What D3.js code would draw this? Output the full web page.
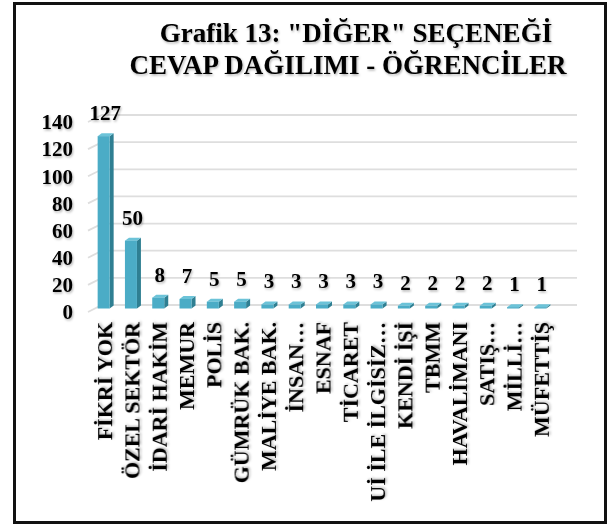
<!DOCTYPE html>
<html>
<head>
<meta charset="utf-8">
<script src="https://cdn.jsdelivr.net/npm/d3@7"></script>
<style>
  body { margin: 0; background: #fff; }
  svg text { font-family: "Liberation Serif", "DejaVu Serif", serif; font-weight: bold; fill: #000; }
</style>
</head>
<body>
<svg id="chart" width="608" height="524"></svg>
<script>
const categories = [
  "FİKRİ YOK", "ÖZEL SEKTÖR", "İDARİ HAKİM", "MEMUR", "POLİS",
  "GÜMRÜK BAK.", "MALİYE BAK.", "İNSAN…", "ESNAF", "TİCARET",
  "Uİ İLE İLGİSİZ…", "KENDİ İŞİ", "TBMM", "HAVALİMANI", "SATIŞ…",
  "MİLLİ…", "MÜFETTİŞ"
];
const values = [127, 50, 8, 7, 5, 5, 3, 3, 3, 3, 3, 2, 2, 2, 2, 1, 1];
const yTicks = [0, 20, 40, 60, 80, 100, 120, 140];
const titleLines = ['Grafik 13: "DİĞER" SEÇENEĞİ', "CEVAP DAĞILIMI - ÖĞRENCİLER"];

const depth = { dx: 12, dy: 7 };      // floor / wall depth
const barDepth = { dx: 4, dy: 3 };
const barW = 12;

const svg = d3.select("#chart");

// drop shadow for text
const defs = svg.append("defs");
defs.append("filter")
  .attr("id", "shadow")
  .attr("x", "-10%").attr("y", "-10%").attr("width", "130%").attr("height", "140%")
  .append("feDropShadow")
  .attr("dx", 1).attr("dy", 1.5).attr("stdDeviation", 0.8)
  .attr("flood-color", "#000").attr("flood-opacity", 0.3);

// outer frame
svg.append("rect")
  .attr("x", 14.5).attr("y", 3.5)
  .attr("width", 591).attr("height", 519)
  .attr("fill", "none").attr("stroke", "#111").attr("stroke-width", 3);

const x = d3.scalePoint().domain(categories).range([90, 554]).padding(0.5);
// y at mid depth (where bars stand)
const y = d3.scaleLinear().domain([0, 140]).range([308.5, 118.5]);

// grid: side-wall diagonal + back wall line
const grid = svg.append("g").attr("class", "grid");
yTicks.forEach(t => {
  const yf = y(t) + depth.dy / 2;
  const yb = y(t) - depth.dy / 2;
  grid.append("path")
    .attr("d", `M88,${yf}L${88 + depth.dx + 2},${yb}H577`)
    .attr("fill", "none")
    .attr("stroke", "#dedede")
    .attr("stroke-width", 1.8);
});

// y axis labels (front plane)
const yAxis = svg.append("g")
  .attr("transform", `translate(76,${depth.dy / 2})`)
  .call(d3.axisLeft(y).tickValues(yTicks).tickSize(0).tickPadding(3));
yAxis.select(".domain").remove();
yAxis.selectAll("text")
  .style("font-size", "21px")
  .attr("filter", "url(#shadow)");

// bars
const bars = svg.append("g").selectAll("g")
  .data(values)
  .enter()
  .append("g");

bars.each(function (v, i) {
  const g = d3.select(this);
  const x0 = x(categories[i]) - barW / 2;
  const x1 = x0 + barW;
  const top = y(v);
  const bot = y(0);
  // side face
  g.append("path")
    .attr("d", `M${x1},${top}L${x1 + barDepth.dx},${top - barDepth.dy}L${x1 + barDepth.dx},${bot - barDepth.dy}L${x1},${bot}Z`)
    .attr("fill", "#2f7f92");
  // top face
  g.append("path")
    .attr("d", `M${x0},${top}L${x0 + barDepth.dx},${top - barDepth.dy}L${x1 + barDepth.dx},${top - barDepth.dy}L${x1},${top}Z`)
    .attr("fill", "#6cc3d8");
  // front face
  g.append("rect")
    .attr("x", x0).attr("y", top)
    .attr("width", barW).attr("height", bot - top)
    .attr("fill", "#4bacc6");
});

// value labels
svg.append("g").selectAll("text")
  .data(values)
  .enter()
  .append("text")
  .attr("x", (d, i) => x(categories[i]) + 1.5)
  .attr("y", d => y(d) - 16)
  .attr("text-anchor", "middle")
  .style("font-size", "21px")
  .attr("filter", "url(#shadow)")
  .text(d => d);

// category labels
const xAxis = svg.append("g")
  .attr("transform", "translate(0,322)")
  .call(d3.axisBottom(x).tickSize(0));
xAxis.select(".domain").remove();
xAxis.selectAll("text")
  .attr("x", 0).attr("y", 0)
  .attr("dy", "0.35em")
  .attr("transform", "rotate(-90)")
  .attr("text-anchor", "end")
  .style("font-size", "22px")
  .attr("filter", "url(#shadow)");

// title
svg.append("g").selectAll("text")
  .data(titleLines)
  .enter()
  .append("text")
  .attr("x", (d, i) => i === 0 ? 356 : 348)
  .attr("y", (d, i) => 42 + i * 32)
  .attr("text-anchor", "middle")
  .style("font-size", "27px")
  .attr("filter", "url(#shadow)")
  .text(d => d);
</script>
</body>
</html>
